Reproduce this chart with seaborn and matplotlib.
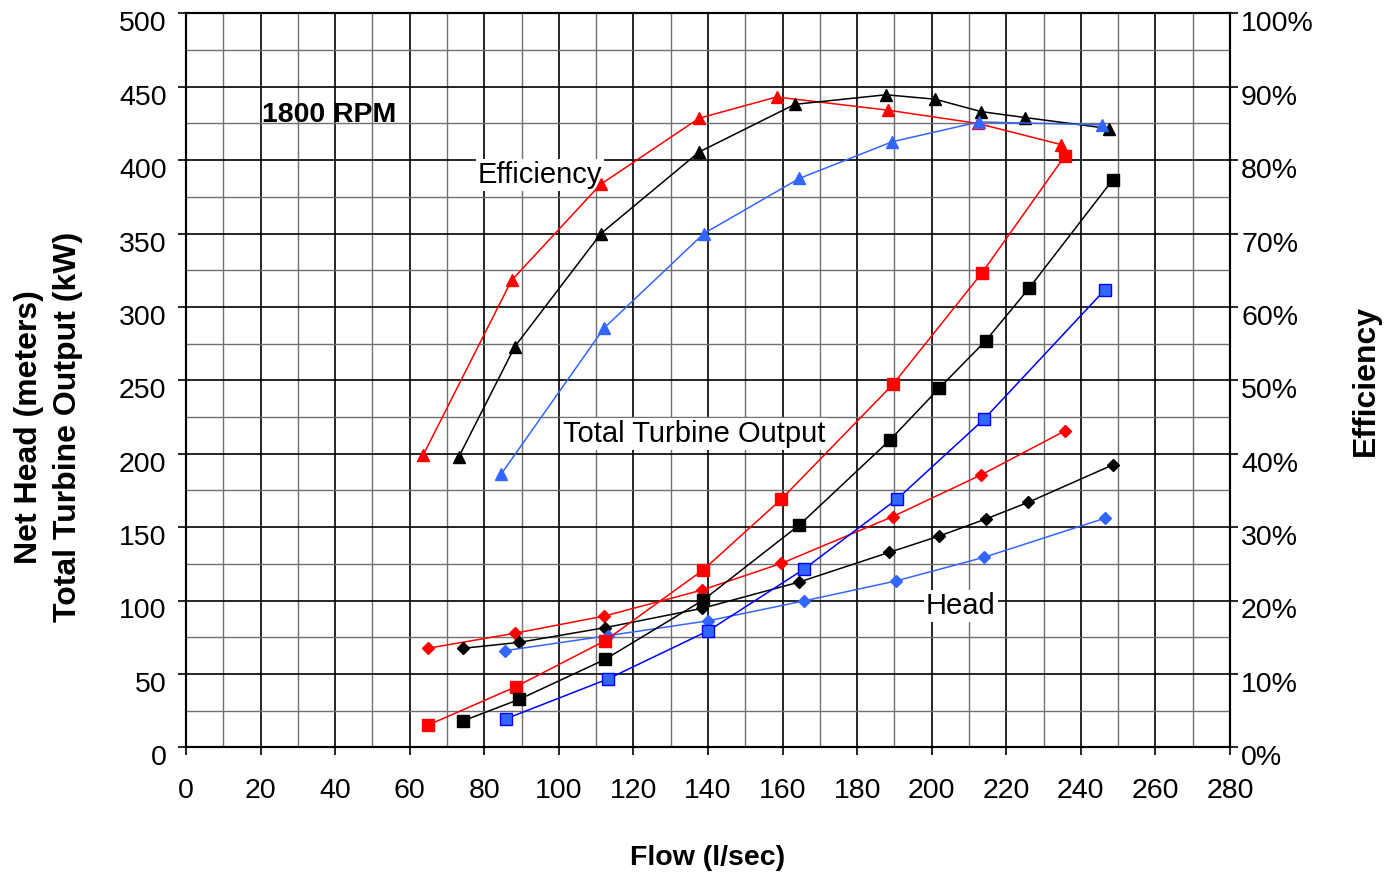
import matplotlib
matplotlib.use("Agg")
import matplotlib.pyplot as plt
import matplotlib.transforms as mtransforms
from matplotlib.ticker import MultipleLocator, FuncFormatter
import seaborn as sns

# ---------------- data ----------------
# Efficiency (%) - triangles
flow_eff_red = [63.6, 87.3, 111.2, 137.6, 158.4, 188.3, 212.3, 234.8]
eff_red = [39.8, 63.6, 76.7, 85.7, 88.6, 86.8, 85.0, 82.1]
flow_eff_black = [73.2, 88.2, 111.3, 137.6, 163.3, 187.7, 200.9, 213.3, 225.0, 247.5]
eff_black = [39.6, 54.6, 70.0, 81.1, 87.6, 88.9, 88.3, 86.6, 85.8, 84.3]
flow_eff_blue = [84.5, 112.1, 138.9, 164.5, 189.4, 212.7, 245.6]
eff_blue = [37.2, 57.1, 70.0, 77.5, 82.5, 85.2, 84.8]

# Total turbine output (kW) - squares
flow_out_red = [65.0, 88.5, 112.4, 138.7, 159.7, 189.7, 213.4, 235.7]
out_red = [15.2, 41.3, 72.6, 120.8, 169.1, 247.5, 322.9, 402.8]
flow_out_black = [74.4, 89.4, 112.4, 138.7, 164.5, 188.8, 202.0, 214.5, 226.1, 248.5]
out_black = [18.1, 32.7, 59.9, 100.3, 151.4, 209.3, 244.6, 277.0, 312.7, 386.4]
flow_out_blue = [85.7, 113.1, 140.1, 165.7, 190.7, 214.0, 246.4]
out_blue = [19.3, 46.5, 79.4, 121.3, 169.1, 223.4, 311.5]

# Net head (m) - diamonds
flow_head_red = [64.8, 88.2, 112.2, 138.5, 159.7, 189.5, 213.2, 235.7]
head_red = [67.4, 77.7, 89.4, 107.2, 125.3, 157.1, 185.5, 215.5]
flow_head_black = [74.2, 89.4, 112.4, 138.5, 164.5, 188.6, 202.0, 214.5, 225.9, 248.5]
head_black = [67.4, 71.5, 81.5, 94.7, 112.6, 132.8, 143.9, 155.5, 166.9, 192.3]
flow_head_blue = [85.5, 113.1, 140.1, 165.7, 190.4, 214.0, 246.4]
head_blue = [65.8, 76.0, 86.2, 99.7, 113.3, 129.4, 156.0]

x_ticks = list(range(0, 281, 20))
left_ticks = list(range(0, 501, 50))
right_ticks = list(range(0, 101, 10))

RED = "#FF0000"
BLACK = "#000000"
LBLUE = "#3366FF"
DBLUE = "#0000FF"

# ---------------- style ----------------
sns.set_style("white")
plt.rcParams["font.family"] = ["Liberation Sans", "DejaVu Sans"]
plt.rcParams["text.color"] = "black"
plt.rcParams["axes.labelcolor"] = "black"
plt.rcParams["xtick.color"] = "black"
plt.rcParams["ytick.color"] = "black"

fig = plt.figure(figsize=(13.87, 8.73), dpi=100)
ax = fig.add_axes([186 / 1387, 1 - 747.3 / 873, (1230 - 186) / 1387, (747.3 - 13.3) / 873])
ax.set_facecolor("white")

ax.set_xlim(0, 280)
ax.set_ylim(0, 500)
ax.set_xticks(x_ticks)
ax.set_yticks(left_ticks)
ax.xaxis.set_minor_locator(MultipleLocator(10))
ax.yaxis.set_minor_locator(MultipleLocator(25))
ax.grid(which="major", color="black", linewidth=1.2)
ax.grid(which="minor", color="#707070", linewidth=1.0)
ax.tick_params(which="major", direction="out", length=6, width=1.2, color="black",
               labelsize=20.5, labelcolor="black")
ax.tick_params(axis="x", which="major", pad=16, bottom=True)
ax.tick_params(axis="y", which="major", pad=8, left=True)
ax.tick_params(which="minor", length=0)
for s in ax.spines.values():
    s.set_color("black")
    s.set_linewidth(1.5)

ax2 = ax.twinx()
ax2.set_ylim(0, 100)
ax2.set_yticks(right_ticks)
ax2.yaxis.set_major_formatter(FuncFormatter(lambda v, p: f"{v:.0f}%"))
ax2.tick_params(axis="y", direction="out", length=6, width=1.2, color="black",
                labelsize=20.5, labelcolor="black", pad=2, right=True)
ax2.grid(False)
for s in ax2.spines.values():
    s.set_color("black")
    s.set_linewidth(1.5)

# ---------------- series ----------------
def draw(axis, x, y, color, marker, ms, mfc=None, mec=None):
    sns.lineplot(x=x, y=y, ax=axis, color=color, linewidth=1.1, marker=marker,
                 markersize=ms, markerfacecolor=mfc or color,
                 markeredgecolor=mec or color, markeredgewidth=1.0,
                 estimator=None, errorbar=None, sort=False, legend=False)

# head (diamonds)
draw(ax, flow_head_red, head_red, RED, "D", 6.3)
draw(ax, flow_head_black, head_black, BLACK, "D", 6.3)
draw(ax, flow_head_blue, head_blue, LBLUE, "D", 6.3)
# output (squares)
draw(ax, flow_out_red, out_red, RED, "s", 9)
draw(ax, flow_out_black, out_black, BLACK, "s", 9)
draw(ax, flow_out_blue, out_blue, DBLUE, "s", 9, mfc=LBLUE, mec=DBLUE)
# efficiency (triangles)
draw(ax2, flow_eff_red, eff_red, RED, "^", 8.5)
draw(ax2, flow_eff_black, eff_black, BLACK, "^", 8.5)
draw(ax2, flow_eff_blue, eff_blue, LBLUE, "^", 8.5)

ax.set_xlabel("")
ax.set_ylabel("")
ax2.set_ylabel("")

# tick labels sit slightly below their ticks, as in the reference
offset = mtransforms.ScaledTranslation(0, -0.08, fig.dpi_scale_trans)
for lbl in ax.get_yticklabels() + ax2.get_yticklabels():
    lbl.set_transform(lbl.get_transform() + offset)

# ---------------- annotations ----------------
box = dict(facecolor="white", edgecolor="none", pad=1.5)
ax.text(20.4, 430.7, "1800 RPM", fontsize=20.5, fontweight="bold", ha="left", va="center",
        zorder=5)
ax.text(78.3, 389.9, "Efficiency", fontsize=21, ha="left", va="center", bbox=box, zorder=5)
ax.text(101.1, 213.5, "Total Turbine Output", fontsize=21, ha="left", va="center",
        bbox=box, zorder=5)
ax.text(198.4, 96.3, "Head", fontsize=21, ha="left", va="center", bbox=box, zorder=5)

fig.text(29 / 1387, 1 - 427 / 873, "Net Head (meters)", rotation=90, ha="center",
         va="center", fontsize=23, fontweight="bold")
fig.text(68 / 1387, 1 - 427 / 873, "Total Turbine Output (kW)", rotation=90, ha="center",
         va="center", fontsize=23, fontweight="bold")
fig.text(1366 / 1387, 1 - 380 / 873, "Efficiency", rotation=90, ha="center", va="center",
         fontsize=23, fontweight="bold")
fig.text(708 / 1387, 1 - 858 / 873, "Flow (l/sec)", ha="center", va="center",
         fontsize=20.5, fontweight="bold")

fig.savefig("out.png", dpi=100, facecolor="white")
